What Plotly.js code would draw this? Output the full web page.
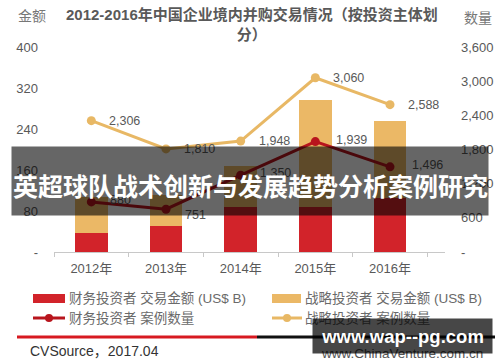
<!DOCTYPE html>
<html><head><meta charset="utf-8">
<script src="https://cdn.plot.ly/plotly-3.0.1.min.js"></script>
<style>html,body{margin:0;padding:0;background:#fff}#chart{width:500px;height:362px}</style>
</head><body><div id="chart"></div>
<script>
// ---- data ----
const years = ['2012年', '2013年', '2014年', '2015年', '2016年'];
const financialAmount = [37, 51, 88, 87, 105];      // 财务投资者 交易金额 (US$ B)
const strategicAmount = [70, 60, 80, 210, 151];     // 战略投资者 交易金额 (US$ B)
const financialCount = [880, 751, 1350, 1939, 1496]; // 财务投资者 案例数量
const strategicCount = [2306, 1810, 1948, 3060, 2588]; // 战略投资者 案例数量
const leftTicks = [0, 80, 160, 240, 320, 400];
const rightTicks = [0, 600, 1200, 1800, 2400, 3000, 3600];
const seriesNames = ['财务投资者 交易金额 (US$ B)', '战略投资者 交易金额 (US$ B)', '财务投资者 案例数量', '战略投资者 案例数量'];

// ---- style ----
const FONT = 'Liberation Sans, Arial, Noto Sans CJK SC, sans-serif';
const CJK = 'Noto Sans CJK SC, Liberation Sans, sans-serif';
const RED = '#D2232A', ORANGE = '#EBB866', RED_LINE = '#B8151D', ORANGE_LINE = '#E8B865';
const GREY = '#595959';
const L = 54, R = 445, T = 47, B = 252;
const px = x => (x - L) / (R - L);
const py = y => (B - y) / (B - T);
const fmt = v => v === 0 ? '-' : v.toLocaleString('en-US');
const redDx = [17, 17, 17, 19, 20], redDy = [2, -6, 2, 2, 2];

const traces = [
  {type: 'bar', x: years, y: financialAmount, name: seriesNames[0], marker: {color: RED}, yaxis: 'y', hoverinfo: 'skip'},
  {type: 'bar', x: years, y: strategicAmount, name: seriesNames[1], marker: {color: ORANGE}, yaxis: 'y', hoverinfo: 'skip'},
  {type: 'scatter', mode: 'lines+markers', x: years, y: financialCount, name: seriesNames[2], yaxis: 'y2',
   line: {color: RED_LINE, width: 3}, marker: {color: RED_LINE, size: 9}, hoverinfo: 'skip'},
  {type: 'scatter', mode: 'lines+markers', x: years, y: strategicCount, name: seriesNames[3], yaxis: 'y2',
   line: {color: ORANGE_LINE, width: 3}, marker: {color: ORANGE_LINE, size: 9}, hoverinfo: 'skip'}
];

const ann = [];
// data labels
years.forEach((yr, i) => {
  ann.push({x: yr, y: strategicCount[i], xref: 'x', yref: 'y2', text: fmt(strategicCount[i]), showarrow: false,
    xanchor: 'left', yanchor: 'middle', xshift: 16, yshift: 0, font: {family: FONT, size: 12.5, color: GREY}});
  ann.push({x: yr, y: financialCount[i], xref: 'x', yref: 'y2', text: fmt(financialCount[i]), showarrow: false,
    xanchor: 'left', yanchor: 'middle', xshift: redDx[i], yshift: redDy[i], font: {family: FONT, size: 12.5, color: GREY}});
});
// title and axis captions
ann.push({xref: 'paper', yref: 'paper', x: px(252), y: py(25), xanchor: 'center', yanchor: 'middle', showarrow: false,
  text: '2012-2016年中国企业境内并购交易情况（按投资主体划<br>分）', align: 'center',
  font: {family: FONT, size: 15, color: GREY, weight: 'bold'}});
ann.push({xref: 'paper', yref: 'paper', x: px(16), y: py(15), xanchor: 'left', yanchor: 'middle', showarrow: false,
  text: '金额', font: {family: CJK, size: 14, color: '#777'}});
ann.push({xref: 'paper', yref: 'paper', x: px(494), y: py(17), xanchor: 'right', yanchor: 'middle', showarrow: false,
  text: '数量', font: {family: CJK, size: 14, color: '#777'}});
// legend texts
const legPos = [[67, 298], [303, 298], [67, 318], [303, 318]];
seriesNames.forEach((n, i) => {
  ann.push({xref: 'paper', yref: 'paper', x: px(legPos[i][0]), y: py(legPos[i][1]), xanchor: 'left', yanchor: 'middle',
    showarrow: false, text: n, font: {family: FONT, size: 13.5, color: '#6a6a6a'}});
});
// footer
ann.push({xref: 'paper', yref: 'paper', x: px(28), y: py(351), xanchor: 'left', yanchor: 'middle', showarrow: false,
  text: 'CVSource，2017.04', font: {family: FONT, size: 14, color: '#333'}});
ann.push({xref: 'paper', yref: 'paper', x: px(319), y: py(353), xanchor: 'left', yanchor: 'middle', showarrow: false,
  text: 'www.ChinaVenture.com.cn', font: {family: FONT, size: 13.5, color: '#555'}});
// overlay banner
ann.push({xref: 'paper', yref: 'paper', x: px(250), y: py(181), xanchor: 'center', yanchor: 'middle', showarrow: false,
  text: ' ', width: 476, height: 68, bgcolor: 'rgba(0,0,0,0.6)', borderpad: 0});
ann.push({xref: 'paper', yref: 'paper', x: px(250), y: py(185), xanchor: 'center', yanchor: 'middle', showarrow: false,
  text: '英超球队战术创新与发展趋势分析案例研究', font: {family: CJK, size: 25, color: '#fff', weight: 'bold'}});
// watermark
ann.push({xref: 'paper', yref: 'paper', x: px(402.5), y: py(336), xanchor: 'center', yanchor: 'middle', showarrow: false,
  text: 'www.wap--pg.com', width: 179, height: 34, bgcolor: 'rgba(0,0,0,0.72)', borderpad: 0,
  font: {family: FONT, size: 18.5, color: '#fff', weight: 'bold'}});

const shapes = [
  {type: 'rect', xref: 'paper', yref: 'paper', x0: px(33), x1: px(65), y0: py(294), y1: py(303), fillcolor: RED, line: {width: 0}},
  {type: 'rect', xref: 'paper', yref: 'paper', x0: px(272), x1: px(301), y0: py(294), y1: py(303), fillcolor: ORANGE, line: {width: 0}},
  {type: 'line', xref: 'paper', yref: 'paper', x0: px(33), x1: px(65), y0: py(318), y1: py(318), line: {color: RED_LINE, width: 3}},
  {type: 'circle', xref: 'paper', yref: 'paper', x0: px(45), x1: px(53), y0: py(314), y1: py(322), fillcolor: RED_LINE, line: {width: 0}},
  {type: 'line', xref: 'paper', yref: 'paper', x0: px(272), x1: px(302), y0: py(318), y1: py(318), line: {color: ORANGE_LINE, width: 3}},
  {type: 'circle', xref: 'paper', yref: 'paper', x0: px(283), x1: px(291), y0: py(314), y1: py(322), fillcolor: ORANGE_LINE, line: {width: 0}},
  {type: 'line', xref: 'paper', yref: 'paper', x0: px(17), x1: px(257), y0: py(337), y1: py(337), line: {color: '#D71920', width: 3}},
  {type: 'line', xref: 'paper', yref: 'paper', x0: px(257), x1: px(495), y0: py(337), y1: py(337), line: {color: '#111', width: 3}}
];

const layout = {
  width: 500, height: 362,
  margin: {l: L, r: 500 - R, t: T, b: 362 - B, pad: 0},
  paper_bgcolor: '#fff', plot_bgcolor: '#fff',
  showlegend: false,
  barmode: 'stack', bargap: 0.565,
  font: {family: FONT, color: GREY, size: 13},
  xaxis: {type: 'category', showline: true, linecolor: '#c8c8c8', linewidth: 1, ticks: 'outside', tickson: 'boundaries',
    ticklen: 4, tickcolor: '#c8c8c8', showgrid: false, zeroline: false, tickfont: {family: FONT, size: 13, color: GREY}, ticklabelstandoff: 4},
  yaxis: {range: [0, 400], tickvals: leftTicks, ticktext: leftTicks.map(fmt), showgrid: false, zeroline: false, showline: false,
    ticks: '', ticklabelstandoff: 15, tickfont: {family: FONT, size: 13, color: GREY}},
  yaxis2: {range: [0, 3600], overlaying: 'y', side: 'right', tickvals: rightTicks, ticktext: rightTicks.map(fmt), showgrid: false,
    zeroline: false, showline: false, ticks: '', ticklabelstandoff: 15, tickfont: {family: FONT, size: 13, color: GREY}},
  annotations: ann,
  shapes: shapes
};

Plotly.newPlot('chart', traces, layout, {staticPlot: true, displayModeBar: false});
</script>
</body></html>
